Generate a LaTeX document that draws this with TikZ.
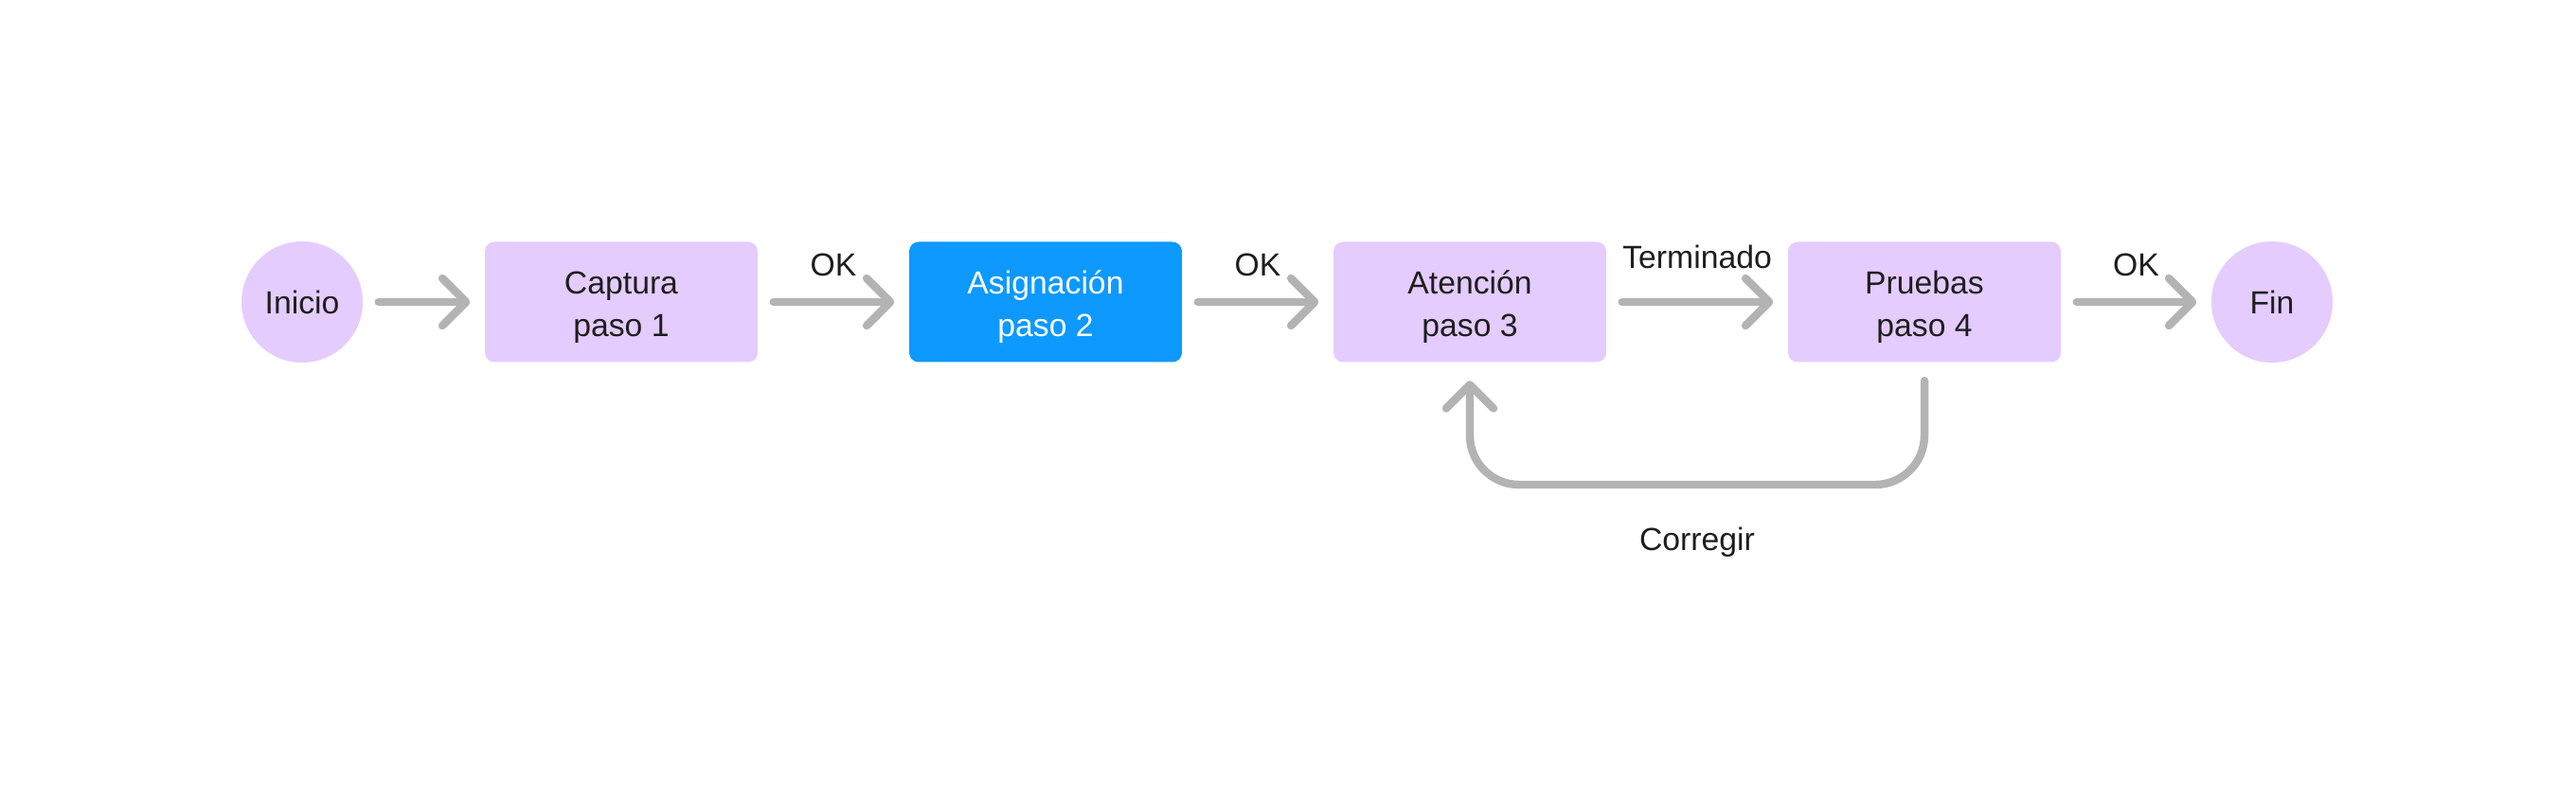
\documentclass[tikz,border=0pt]{standalone}
\usepackage{fontspec}
\setmainfont{Liberation Sans}
\usetikzlibrary{arrows.meta}
\definecolor{lila}{HTML}{E4CCFF}
\definecolor{azul}{HTML}{0D99FF}
\definecolor{gris}{HTML}{B3B3B3}
\definecolor{tinta}{HTML}{1E1E1E}
\newcommand{\alto}{\rule{0pt}{0.35cm}}
\begin{document}
\begin{tikzpicture}[
  font=\fontsize{9.6}{13}\selectfont, text=tinta,
  paso/.style={fill=lila, rounded corners=0.1cm, minimum width=2.88cm, minimum height=1.27cm, align=center},
  extremo/.style={circle, fill=lila, minimum size=1.28cm, inner sep=0},
  flecha/.style={draw=gris, line width=2.4pt, line cap=round, -{Straight Barb[length=0.25cm,width=0.5cm,round]}, shorten <=0.16cm, shorten >=0.15cm},
  etiq/.style={inner sep=0}]
\useasboundingbox (0,-5.24) rectangle (27.2,3.19);
\node[extremo] (inicio) at (3.19,0) {Inicio};
\node[paso] (captura) at (6.56,0) {\alto Captura\\paso 1};
\node[paso, fill=azul, text=white] (asignacion) at (11.04,0) {\alto Asignación\\paso 2};
\node[paso] (atencion) at (15.52,0) {\alto Atención\\paso 3};
\node[paso] (pruebas) at (20.32,0) {\alto Pruebas\\paso 4};
\node[extremo] (fin) at (23.99,0) {Fin};
\coordinate (vuelta) at (0,-1.93);
\draw[flecha] (inicio) -- (captura);
\foreach \a/\b in {captura/asignacion, asignacion/atencion, pruebas/fin} {
  \draw[flecha] (\a) -- node[etiq, above=0.23cm] {OK} (\b);
}
\draw[flecha] (atencion) -- node[etiq, above=0.31cm] {Terminado} (pruebas);
% regreso a atencion
\draw[flecha, shorten <=0.19cm, shorten >=0.19cm, rounded corners=0.52cm] (pruebas.south) -- (pruebas.south |- vuelta)
  -- node[etiq, below=0.41cm] {Corregir} (atencion.south |- vuelta) -- (atencion.south);
\end{tikzpicture}
\end{document}
